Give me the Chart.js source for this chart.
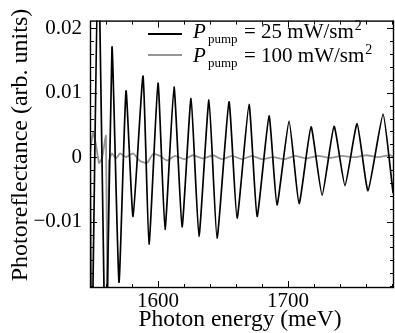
<!DOCTYPE html>
<html>
<head>
<meta charset="utf-8">
<script src="https://cdn.jsdelivr.net/npm/chart.js@4/dist/chart.umd.min.js"></script>
<style>
html,body{margin:0;padding:0;background:#fff;}
#wrap{width:395px;height:333px;position:relative;}
</style>
</head>
<body>
<div id="wrap"><canvas id="c"></canvas></div>
<script>
// ---- data ----
const energyLow = [1547.7,1548.8,1554.2,1559.6,1564.6,1570.0,1575.4,1580.8,1588.5,1593.1,1600.0,1605.4,1612.3,1618.5,1625.4,1631.5,1639.2,1645.4,1654.6,1660.8,1670.0,1676.2,1685.4,1691.5,1700.8,1708.5,1717.7,1726.2,1735.4,1743.8,1753.1,1761.5,1773.1,1780.8,1781.5];
const signalLow = [0.010,-0.035,0.035,-0.035,0.0171,-0.0194,0.0103,-0.0092,0.0126,-0.0135,0.0115,-0.0112,0.0109,-0.0108,0.0091,-0.0123,0.0089,-0.0126,0.0086,-0.0095,0.0082,-0.0092,0.0064,-0.0074,0.0056,-0.0072,0.0047,-0.0059,0.0048,-0.0044,0.0052,-0.0052,0.0067,-0.0055,-0.0045];

const energyHigh = [1547.7,1550.0,1552.3,1554.6,1556.9,1560.0,1561.2,1562.3,1564.6,1567.7,1570.8,1575.4,1580.8,1586.2,1591.5,1596.2,1601.5,1606.9,1613.1,1620.0,1626.9,1634.6,1642.3,1649.2,1656.9,1664.6,1672.3,1680.0,1688.5,1697.0,1705.4,1713.8,1723.1,1732.3,1741.5,1750.8,1760.0,1769.2,1778.5,1781.5];
const signalHigh = [0.0006,0.0038,0.0020,-0.0009,-0.0002,0.0033,-0.030,-0.0006,0.0006,-0.0002,0.0006,0.0000,0.0006,-0.0006,-0.0009,0.0005,0.0002,-0.0005,0.0002,-0.0003,0.0003,-0.0002,0.0003,-0.0003,0.0002,-0.0003,0.0002,-0.0003,0.0000,-0.0003,0.0002,-0.0002,0.0002,-0.0001,0.0002,0.0000,0.0003,0.0000,0.0003,0.0000];

const seriesNames = ["25 mW/sm", "100 mW/sm"];
const xTickLabels = [1600, 1700];
const yTickLabels = [-0.01, 0, 0.01, 0.02];
const xMinorStep = 20;
const yMinorStep = 0.002;
const xRange = [1547.7, 1781.5];
const yRange = [-0.0203, 0.0212];
const xTitle = "Photon energy (meV)";
const yTitle = "Photoreflectance (arb. units)";

// ---- chart ----
const SERIF = "'Liberation Serif', 'Times New Roman', serif";
const toPts = (xs, ys) => xs.map((x, i) => ({x: x, y: ys[i]}));
const isLabel = (v, list) => list.some(t => Math.abs(v - t) < 1e-7);
const fmtY = v => (Math.abs(v) < 1e-9 ? "0" : (v < 0 ? "\u2212" + Math.abs(v).toFixed(2) : v.toFixed(2)));

const framePlugin = {
  id: 'frame',
  afterDraw(chart) {
    const ctx = chart.ctx, a = chart.chartArea;
    const xs = chart.scales.x, ys = chart.scales.y;
    ctx.save();
    ctx.strokeStyle = '#000';
    ctx.lineWidth = 1.4;
    ctx.strokeRect(a.left + 0.5, a.top + 0.5, a.right - a.left - 1, a.bottom - a.top - 1);
    ctx.lineWidth = 1;
    ctx.beginPath();
    xs.ticks.forEach(t => {
      const p = Math.round(xs.getPixelForValue(t.value)) + 0.5;
      if (p < a.left + 1 || p > a.right - 1) return;
      const len = isLabel(t.value, xTickLabels) ? 7 : 4;
      ctx.moveTo(p, a.bottom); ctx.lineTo(p, a.bottom - len);
      ctx.moveTo(p, a.top); ctx.lineTo(p, a.top + len);
    });
    ys.ticks.forEach(t => {
      const p = Math.round(ys.getPixelForValue(t.value)) + 0.5;
      if (p < a.top + 1 || p > a.bottom - 1) return;
      const len = isLabel(t.value, yTickLabels) ? 7 : 4;
      ctx.moveTo(a.left, p); ctx.lineTo(a.left + len, p);
      ctx.moveTo(a.right, p); ctx.lineTo(a.right - len, p);
    });
    ctx.stroke();

    // axis titles
    ctx.fillStyle = '#000';
    ctx.font = "23.5px " + SERIF;
    ctx.textAlign = 'center';
    ctx.textBaseline = 'middle';
    ctx.fillText(xTitle, 240, 320);
    ctx.save();
    ctx.translate(21, 145);
    ctx.rotate(-Math.PI / 2);
    ctx.font = "24px " + SERIF;
    ctx.fillText(yTitle, 0, 0);
    ctx.restore();

    // legend
    const ds = chart.data.datasets;
    const rows = [{y: 38, ly: 34}, {y: 62, ly: 55}];
    rows.forEach((r, i) => {
      ctx.strokeStyle = ds[i].borderColor;
      ctx.lineWidth = 2.2;
      ctx.beginPath();
      ctx.moveTo(148, r.ly); ctx.lineTo(182, r.ly);
      ctx.stroke();
      ctx.textAlign = 'left';
      ctx.textBaseline = 'alphabetic';
      ctx.font = "italic 21px " + SERIF;
      ctx.fillText("P", 193, r.y);
      ctx.font = "13px " + SERIF;
      ctx.fillText("pump", 208, r.y + 5);
      ctx.font = "21px " + SERIF;
      const main = "= " + seriesNames[i];
      ctx.fillText(main, 244, r.y);
      const w = ctx.measureText(main).width;
      ctx.font = "14px " + SERIF;
      ctx.fillText("2", 244 + w + 1, r.y - 8);
    });
    ctx.restore();
  }
};

new Chart(document.getElementById('c'), {
  type: 'line',
  data: {
    datasets: [
      {
        label: "P_pump = 25 mW/sm2",
        data: toPts(energyLow, signalLow),
        borderColor: '#000000',
        borderWidth: 1.7,
        pointRadius: 0,
        tension: 0.15,
        fill: false
      },
      {
        label: "P_pump = 100 mW/sm2",
        data: toPts(energyHigh, signalHigh),
        borderColor: '#959595',
        borderWidth: 1.8,
        pointRadius: 0,
        tension: 0.15,
        fill: false
      }
    ]
  },
  options: {
    responsive: true,
    maintainAspectRatio: false,
    animation: false,
    events: [],
    layout: {padding: {left: 0, right: 1, top: 14, bottom: 0}},
    plugins: {legend: {display: false}, tooltip: {enabled: false}},
    scales: {
      x: {
        type: 'linear',
        position: 'bottom',
        min: xRange[0], max: xRange[1],
        afterFit: s => { s.height = 45; },
        grid: {display: false, drawTicks: false},
        border: {display: false},
        ticks: {
          stepSize: xMinorStep,
          includeBounds: false,
          autoSkip: false,
          maxRotation: 0,
          padding: 1,
          color: '#000',
          font: {family: SERIF, size: 21, lineHeight: 1.2},
          callback: v => (isLabel(v, xTickLabels) ? String(Math.round(v)) : '')
        }
      },
      y: {
        type: 'linear',
        min: yRange[0], max: yRange[1],
        afterFit: s => { s.width = 90; },
        grid: {display: false, drawTicks: false},
        border: {display: false},
        ticks: {
          stepSize: yMinorStep,
          maxTicksLimit: 100,
          includeBounds: false,
          autoSkip: false,
          padding: 8,
          color: '#000',
          font: {family: SERIF, size: 21},
          callback: v => (isLabel(v, yTickLabels) ? fmtY(v) : '')
        }
      }
    }
  },
  plugins: [framePlugin]
});
</script>
</body>
</html>
